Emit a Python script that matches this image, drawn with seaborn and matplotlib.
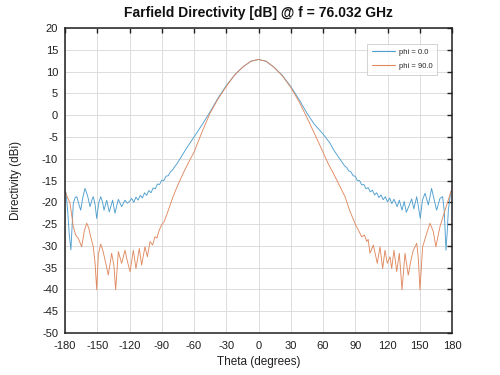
import matplotlib
matplotlib.use("Agg")
import matplotlib.pyplot as plt
import seaborn as sns
import pandas as pd

# ---- data ----
theta_phi0 = [-180, -179, -177.5, -176, -174.5, -173.5, -172.3, -170.5, -169, -167, -165.4, -163.5,
              -161.4, -159, -156.7, -155, -153.7, -152, -150.5, -148.5, -146.8, -145, -143.7, -141.2,
              -138.8, -135.7, -133.5, -130.4, -127.3, -124.2, -122, -120, -118, -116, -114, -112, -110,
              -108, -106, -104, -102, -100, -98, -96, -94, -92, -90, -88, -86, -84, -82, -80, -78, -76,
              -73, -67, -60, -52, -45, -38, -30, -22, -14, -7, 0, 7, 14, 22, 30, 38, 45, 52, 60, 66.5,
              70, 75, 80, 82, 84, 86, 88, 90, 92, 94, 96, 98, 100, 102, 104, 106, 108, 110, 112, 114,
              116, 118, 120, 122, 124, 126, 127, 129, 131, 133.5, 135.5, 137.5, 140, 142.5, 144.5,
              147.2, 150.5, 152.5, 154.9, 158, 161, 163.5, 165.7, 168.8, 171.3, 172.8, 174.4, 175.5,
              176.6, 178.8, 180]
dir_phi0 = [-17.5, -17.8, -22, -27.5, -30.9, -26, -20.2, -18.9, -18.7, -20.5, -21.8, -19,
            -16.8, -18.5, -21, -19.5, -18.7, -20.5, -23.7, -20, -18.7, -20, -21.8, -19.5,
            -22.2, -19.5, -22.5, -19.3, -21, -19.5, -20.2, -19.8, -19.1, -20.0, -18.8, -19.5, -18.4,
            -19.0, -17.8, -18.4, -17.3, -17.8, -16.7, -16.9, -15.8, -15.9, -14.9, -15.0, -14.0, -13.9,
            -13.0, -12.6, -11.8, -11.2,
            -10.0, -7.6, -5.0, -2.0, 0.8, 3.8, 6.8, 9.3, 11.2, 12.4, 12.8, 12.4, 11.1, 9.2, 6.6, 3.5,
            0.5, -2.1, -4.3, -6.4,
            -8.0, -9.8, -11.6, -12.0, -12.8, -13.0, -13.9, -14.0, -15.0, -15.0, -16.0, -15.9, -16.9,
            -16.6, -17.6, -17.2, -18.3, -17.8, -18.9, -18.3,
            -19.4, -18.7, -19.9, -19.0, -20.3, -19.3, -19.8, -21, -19.5, -21.8, -19.8, -22.3, -20.8,
            -19.2, -21.5,
            -18.7, -23.7, -19.5, -17.9, -20.6, -16.8, -19.5, -21.8, -19.1, -18.7, -22, -31, -27,
            -21.8, -17.6, -17.3]

theta_phi90 = [-180, -177.5, -175.3, -172.3, -170, -167.6, -164.5, -162, -159.8, -158, -156.1, -153.7,
               -152, -150.5, -149, -146.8, -144.8, -142.8, -139.7, -136.6, -134.5, -132.9, -130.4,
               -127.3, -124.2, -122, -119.5, -116.4, -114, -110.9, -108.7, -105.6, -103.4, -100.9,
               -98.5, -96.3, -94.5, -92.5, -90.2, -88, -85.4, -82.5, -79.5, -75, -70, -65, -60, -56,
               -52, -45, -38, -30, -22, -14, -7, 0, 7, 14, 22, 30, 38, 45, 52, 56, 60, 65, 70, 75,
               80.5, 85, 88, 90.4, 93, 96, 98.5, 100.7, 102, 103.7, 106.8, 110.5, 113, 115.5, 117.7,
               119.8, 122.3, 123.9, 126, 128.6, 131, 133.5, 136.3, 139.3, 141.9, 144, 147.2, 148.7,
               150.2, 152.7, 156.5, 159.5, 162.6, 165, 168.8, 173.5, 176.5, 178.8, 180]
dir_phi90 = [-17.5, -19, -20.2, -25.6, -27.5, -28.3, -30.2, -26.5, -24.8, -25.8, -27.9, -30.2,
             -34, -40.1, -32, -29.6, -31, -33.2, -36.7, -31.7, -34.5, -40.1, -31.3,
             -34, -31, -33.5, -35.9, -31, -35.2, -30.6, -34.4, -30.2, -32.5, -29,
             -29.8, -27.9, -28.2, -26.5, -25.2, -24.5, -22.9, -20.8, -18.7, -16, -13.3, -10.8, -8.5, -6,
             -3.5, 0.5, 3.6, 6.6, 9.3, 11.2, 12.4, 12.8, 12.4, 11.1, 9.1, 6.4, 3.0, -0.5, -4.2, -6.3,
             -8.5, -11.2, -13.5, -16,
             -18.7, -22, -23.8, -25.2, -26.4, -27.9, -27.5, -29, -28.5, -31.7, -29.8, -34, -30.2,
             -35.2, -31,
             -34, -32.5, -35.2, -31, -35.9, -31.7, -40.1, -31.7, -36.7, -33.2, -31, -29.4, -33,
             -40.1, -30.2, -27.1, -24.8, -26.7, -30.2, -25.6, -21.8, -19.5, -17.6, -17.2]

series_labels = ["phi = 0.0", "phi = 90.0"]
x_ticks = list(range(-180, 181, 30))
y_ticks = list(range(-50, 21, 5))
title = "Farfield Directivity [dB] @ f = 76.032 GHz"

df = pd.concat([
    pd.DataFrame({"theta": theta_phi0, "dir": dir_phi0, "series": series_labels[0]}),
    pd.DataFrame({"theta": theta_phi90, "dir": dir_phi90, "series": series_labels[1]}),
], ignore_index=True)

sns.set_theme(style="white")
plt.rcParams["font.family"] = ["Liberation Sans", "DejaVu Sans"]
plt.rcParams["axes.unicode_minus"] = False

colors = ["#4f9fcf", "#e08a60"]

fig = plt.figure(figsize=(5, 3.75), dpi=100)
ax = fig.add_axes([0.13, 0.112, 0.774, 0.813])

sns.lineplot(data=df, x="theta", y="dir", hue="series", estimator=None, sort=False,
             palette=colors, linewidth=0.65, ax=ax, legend=False)

ax.set_xlim(-180, 180)
ax.set_ylim(-50, 20)
ax.set_xticks(x_ticks)
ax.set_yticks(y_ticks)
ax.tick_params(axis="both", which="both", direction="in", length=3.5, width=1.0,
               top=True, right=True, labelsize=8, colors="#1f1f1f")
ax.tick_params(axis="x", pad=6)
ax.tick_params(axis="y", pad=5)
ax.grid(True, color="#dcdcdc", linewidth=0.7)
ax.set_axisbelow(True)
for s in ax.spines.values():
    s.set_color("#1f1f1f")
    s.set_linewidth(1.1)

ax.set_title(title, fontsize=10, fontweight="bold", color="#111111", pad=8)
ax.set_xlabel("Theta (degrees)", fontsize=8.5, color="#1f1f1f", labelpad=3)
ax.set_ylabel("Directivity (dBi)", fontsize=8.5, color="#1f1f1f", labelpad=14)

handles = [plt.Line2D([], [], color=c, linewidth=0.8) for c in colors]
leg = ax.legend(handles, series_labels, loc="upper right", bbox_to_anchor=(0.972, 0.961),
                fontsize=5.5, frameon=True, fancybox=False, handlelength=3.0, borderpad=0.6,
                labelspacing=0.9, handletextpad=0.6)
leg.get_frame().set_edgecolor("#bfbfbf")
leg.get_frame().set_linewidth(0.6)

fig.savefig("out.png", dpi=100)
